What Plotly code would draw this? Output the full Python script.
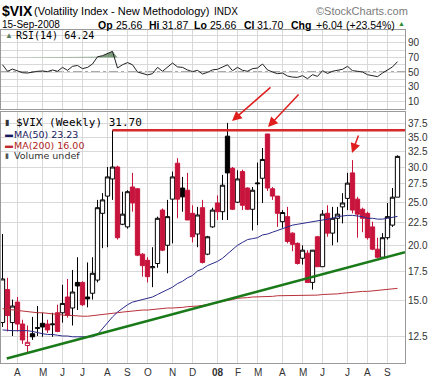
import pandas as pd
import plotly.graph_objects as go

# ---------------- data ----------------
first_week = "2007-03-12"
opens = [13.4, 15.9, 13.4, 14.9, 13.3, 11.9, 12.65, 13.0, 13.35, 13.3,
         13.25, 14.1, 14.1, 15.3, 14.45, 16.5, 16.5, 15.3, 15.6, 16.7,
         23.6, 25.8, 28.2, 30.0, 22.3, 22.0, 27.05, 26.8, 19.1, 18.5,
         17.8, 18.2, 24.0, 20.0, 25.4, 30.6, 26.9, 26.6, 23.6, 21.2,
         24.3, 19.1, 22.0, 24.9, 23.8, 35.2, 29.8, 25.0, 29.3, 26.9,
         24.1, 27.5, 28.3, 35.6, 26.8, 25.8, 22.6, 23.2, 21.3, 20.2,
         18.7, 19.2, 16.5, 20.9, 17.9, 23.6, 21.3, 23.0, 24.4, 25.5,
         29.1, 25.4, 24.1, 23.6, 22.0, 19.6, 18.8, 20.8, 22.2, 25.66]
highs = [21.2, 16.9, 15.1, 15.3, 13.6, 13.2, 13.8, 14.6, 14.1, 13.6,
         14.1, 14.7, 16.3, 16.8, 17.6, 18.8, 16.6, 18.3, 18.8, 25.3,
         26.2, 30.0, 36.3, 30.2, 26.4, 26.6, 29.1, 26.9, 19.2, 18.8,
         19.8, 23.2, 24.2, 25.3, 29.3, 31.4, 28.5, 29.1, 24.6, 24.4,
         25.3, 21.0, 24.3, 25.9, 28.8, 37.7, 30.0, 29.5, 29.6, 27.0,
         27.05, 30.7, 33.1, 35.6, 27.05, 25.8, 24.0, 24.4, 21.4, 20.3,
         20.0, 19.5, 19.5, 21.0, 24.0, 24.6, 24.4, 24.4, 26.2, 29.1,
         31.1, 25.7, 24.3, 23.8, 22.6, 20.8, 21.3, 24.9, 26.9, 31.87]
lows = [13.1, 12.8, 12.5, 12.8, 12.0, 11.5, 12.25, 12.5, 12.45, 12.7,
        12.45, 12.75, 13.4, 13.75, 13.2, 14.3, 14.6, 14.5, 15.1, 16.5,
        19.7, 19.8, 25.3, 20.6, 22.2, 21.8, 23.8, 18.9, 17.0, 16.5,
        16.1, 17.8, 19.4, 17.3, 20.2, 23.0, 23.8, 22.8, 20.3, 19.8,
        18.2, 19.0, 21.9, 22.8, 22.8, 22.8, 24.0, 24.9, 24.0, 24.0,
        21.6, 22.2, 24.9, 26.5, 25.3, 22.0, 21.9, 20.2, 19.4, 18.1,
        18.1, 16.5, 15.9, 17.9, 17.9, 20.9, 20.0, 20.3, 22.4, 24.0,
        23.6, 20.8, 21.4, 20.6, 19.5, 18.7, 18.7, 20.6, 22.0, 25.66]
closes = [16.8, 13.9, 14.6, 13.3, 12.25, 12.1, 12.45, 13.05, 13.1, 12.9,
          13.3, 12.8, 14.8, 13.9, 15.7, 16.2, 14.7, 15.15, 17.3, 24.3,
          25.3, 28.5, 30.0, 20.8, 23.5, 26.4, 24.9, 19.0, 18.0, 17.0,
          17.9, 23.0, 19.5, 23.2, 28.5, 25.4, 25.7, 22.8, 20.9, 23.4,
          18.3, 20.9, 24.0, 23.8, 27.3, 29.1, 24.1, 28.2, 24.6, 24.1,
          26.6, 27.6, 31.2, 26.9, 25.8, 23.6, 23.7, 20.4, 20.1, 18.2,
          19.5, 16.5, 19.5, 17.9, 23.5, 21.3, 23.0, 23.5, 24.9, 27.6,
          24.0, 23.5, 23.0, 20.8, 19.6, 18.8, 20.8, 23.2, 25.66, 31.70]
ma50 = [12.9, 12.85, 12.85, 12.85, 12.85, 12.85, 12.8, 12.7, 12.65, 12.6,
        12.6, 12.55, 12.5, 12.5, 12.45, 12.45, 12.45, 12.45, 12.45, 12.6,
        13.0, 13.4, 13.8, 14.15, 14.45, 14.7, 14.9, 15.0, 15.1, 15.2,
        15.3, 15.5, 15.7, 15.9, 16.1, 16.4, 16.6, 16.9, 17.1, 17.5,
        17.7, 18.0, 18.2, 18.4, 18.7, 19.1, 19.6, 20.0, 20.3, 20.6,
        20.7, 20.8, 21.1, 21.2, 21.4, 21.6, 21.8, 22.0, 22.2, 22.3,
        22.4, 22.5, 22.65, 22.7, 22.8, 22.9, 23.0, 23.2, 23.3, 23.35,
        23.35, 23.3, 23.2, 23.0, 23.0, 22.9, 22.9, 23.0, 23.1, 23.23]
ma200 = [14.4, 14.35, 14.3, 14.3, 14.25, 14.2, 14.15, 14.1, 14.1, 14.05,
         14.0, 14.0, 13.95, 13.9, 13.9, 13.85, 13.85, 13.85, 13.9, 13.95,
         14.0, 14.0, 14.05, 14.1, 14.15, 14.2, 14.25, 14.3, 14.3, 14.3,
         14.35, 14.4, 14.4, 14.45, 14.45, 14.45, 14.5, 14.55, 14.55, 14.6,
         14.65, 14.7, 14.8, 14.85, 14.95, 15.0, 15.1, 15.2, 15.2, 15.25,
         15.3, 15.3, 15.3, 15.35, 15.35, 15.4, 15.4, 15.4, 15.4, 15.4,
         15.4, 15.4, 15.4, 15.45, 15.5, 15.5, 15.55, 15.55, 15.6, 15.65,
         15.65, 15.7, 15.75, 15.75, 15.8, 15.85, 15.9, 15.9, 15.95, 16.0]
rsi = [60, 51, 54, 51, 49, 48.6, 50, 51, 51.4, 50.5,
       52.8, 51, 56.4, 52.3, 57.8, 59, 54.6, 56.4, 61, 71,
       72.5, 76, 78.5, 55.5, 60, 63, 60, 50, 48, 46,
       47.7, 56.4, 51, 56.4, 62.4, 57, 56.4, 52.8, 50.5, 52.3,
       47.2, 49.5, 53, 53.7, 56.4, 60, 51.8, 56.4, 52.3, 51,
       54.6, 55.5, 61, 52.8, 50, 47.7, 48.6, 44.5, 43, 42.6,
       45, 40.8, 46.3, 44, 51.8, 48, 51, 52.3, 53.7, 57.8,
       51.8, 51, 50, 46.3, 45, 43.6, 48.6, 52.3, 57, 64.24]
month_labels = ["A", "M", "J", "J", "A", "S", "O", "N", "D", "<b>08</b>",
                "F", "M", "A", "M", "J", "J", "A", "S"]
price_ticks = [12.5, 15.0, 17.5, 20.0, 22.5, 25.0, 27.5, 30.0, 32.5, 35.0, 37.5]
rsi_ticks = [10, 30, 50, 70, 90]
resistance_level = 36.3
resistance_from_week = 22
trend_weeks = [0.85, 80.5]
trend_values = [11.13, 19.3]

# ---------------- layout helpers ----------------
W, H = 445, 380
ML, MR, MT, MB = 1, 40, 30, 17
PW, PH = W - ML - MR, H - MT - MB


def px(x):
    return (x - ML) / PW


def py(y):
    return (H - MB - y) / PH


n = len(closes)
dates = pd.date_range(first_week, periods=n, freq="7D")


def wk(k):
    return dates[0] + pd.Timedelta(days=7 * k)


s = pd.Series(dates)
month_first = list(s.groupby(s.dt.to_period("M")).first())[1:]

RED = "#c8143c"
BLACK = "#000000"
FONT = "Liberation Sans, Arial, sans-serif"

fig = go.Figure()

# moving averages
fig.add_trace(go.Scatter(x=dates, y=ma200, mode="lines", line=dict(color="#b8323a", width=1),
                         hoverinfo="skip", showlegend=False))
fig.add_trace(go.Scatter(x=dates, y=ma50, mode="lines", line=dict(color="#2a2a8c", width=1),
                         hoverinfo="skip", showlegend=False))

# candles: black when close >= previous close, red otherwise
up_idx = [i for i in range(n) if i == 0 or closes[i] >= closes[i - 1]]
dn_idx = [i for i in range(n) if i not in up_idx]


def candles(idx, color):
    return go.Candlestick(
        x=[dates[i] for i in idx], open=[opens[i] for i in idx], high=[highs[i] for i in idx],
        low=[lows[i] for i in idx], close=[closes[i] for i in idx],
        increasing=dict(line=dict(color=color, width=1), fillcolor="white"),
        decreasing=dict(line=dict(color=color, width=1), fillcolor=color),
        whiskerwidth=0, hoverinfo="skip", showlegend=False)


fig.add_trace(candles(up_idx, BLACK))
fig.add_trace(candles(dn_idx, RED))

# hand-drawn lines
fig.add_trace(go.Scatter(x=[wk(t) for t in trend_weeks], y=trend_values, mode="lines",
                         line=dict(color="#1a7a1a", width=2.5), hoverinfo="skip", showlegend=False))
fig.add_trace(go.Scatter(x=[wk(resistance_from_week), wk(80.5)], y=[resistance_level] * 2,
                         mode="lines", line=dict(color="#d42a2a", width=2.5),
                         hoverinfo="skip", showlegend=False))

# RSI panel
fig.add_trace(go.Scatter(x=dates, y=[70] * n, mode="lines", line=dict(width=0),
                         xaxis="x2", yaxis="y2", hoverinfo="skip", showlegend=False))
fig.add_trace(go.Scatter(x=dates, y=[max(v, 70) for v in rsi], mode="lines", line=dict(width=0),
                         fill="tonexty", fillcolor="#7c9a7c",
                         xaxis="x2", yaxis="y2", hoverinfo="skip", showlegend=False))
fig.add_trace(go.Scatter(x=dates, y=rsi, mode="lines", line=dict(color="#222222", width=1),
                         xaxis="x2", yaxis="y2", hoverinfo="skip", showlegend=False))

xrange = [wk(-0.3), wk(80.5)]
grid = "#d9d9d9"
axis_line = "#9a9a9a"

main_dom = [0, py(111.5)]
rsi_dom = [py(109), 1]

fig.update_layout(
    width=W, height=H, margin=dict(l=ML, r=MR, t=MT, b=MB),
    paper_bgcolor="white", plot_bgcolor="white",
    boxmode="overlay", boxgap=0.14, boxgroupgap=0,
    font=dict(family=FONT, size=10, color="#333333"),
    xaxis=dict(domain=[0, 1], range=xrange, type="date", anchor="y",
               tickvals=month_first, showticklabels=False, showgrid=True, gridcolor=grid,
               gridwidth=1, ticks="", rangeslider=dict(visible=False), showline=True,
               linecolor=axis_line, mirror=True, zeroline=False),
    yaxis=dict(domain=main_dom, type="log", range=[1.0362, 1.602], side="right",
               tickvals=price_ticks, ticktext=[f"{v:.1f}" for v in price_ticks],
               showgrid=True, gridcolor=grid, ticks="", tickfont=dict(size=10, color="#333333"),
               showline=True, linecolor=axis_line, mirror=True, zeroline=False),
    xaxis2=dict(domain=[0, 1], range=xrange, type="date", anchor="y2", matches="x",
                tickvals=month_first, showticklabels=False, showgrid=True, gridcolor=grid,
                ticks="", showline=True, linecolor=axis_line, mirror=True, zeroline=False),
    yaxis2=dict(domain=rsi_dom, range=[-1.0, 107.9], side="right", anchor="x2",
                tickvals=rsi_ticks, showgrid=True, gridcolor=grid, ticks="",
                minor=dict(tickvals=[0, 20, 40, 60, 80, 100], showgrid=True, gridcolor=grid),
                tickfont=dict(size=10, color="#333333"),
                showline=True, linecolor=axis_line, mirror=True, zeroline=False),
)

# RSI reference lines
for lvl, dash, col in [(70, "solid", "#666666"), (30, "solid", "#666666"), (50, "dashdot", "#555555")]:
    fig.add_shape(type="line", xref="x2 domain", yref="y2", x0=0, x1=1, y0=lvl, y1=lvl,
                  line=dict(color=col, width=1, dash=dash), layer="below")

ann = []


def text(x, y, t, size=10, color="#000000", family=FONT, anchor="left"):
    ann.append(dict(xref="paper", yref="paper", x=px(x), y=py(y), text=t, showarrow=False,
                    xanchor=anchor, yanchor="middle", borderpad=0,
                    font=dict(size=size, color=color, family=family)))


# month labels under the price panel
for d, lab in zip(month_first, month_labels):
    ann.append(dict(xref="x", yref="paper", x=d, y=py(372.5), text=lab, showarrow=False,
                    xanchor="center", yanchor="middle",
                    font=dict(size=10, color="#333333", family=FONT)))

# header
last = n - 1
chg = closes[last] - closes[last - 1]
pct = chg / closes[last - 1] * 100
text(1, 11, "<b>$VIX</b>", size=14)
text(33, 11.5, "(Volatility Index - New Methodology)", size=11)
text(213, 11.5, "INDX", size=10)
text(315, 11, "©StockCharts.com", size=11, color="#7a7a7a")
text(1, 24.5, dates[last].strftime("%d-%b-%Y"), size=10)
header2 = [(97, "<b>Op</b>"), (115, f"{opens[last]:.2f}"), (148, "<b>Hi</b>"),
           (161, f"{highs[last]:.2f}"), (193, "<b>Lo</b>"), (208.5, f"{lows[last]:.2f}"),
           (243, "<b>Cl</b>"), (256, f"{closes[last]:.2f}"), (290, "<b>Chg</b>"),
           (315, f"{chg:+.2f}"), (345, f"({pct:+.2f}%)")]
for xpos, t in header2:
    text(xpos, 24.5, t, size=10.5)
text(397, 24, "▲", size=7, color="#2e8b2e")

# panel legends
MONO = "DejaVu Sans Mono, monospace"
text(4, 35.5, "▲", size=8, color="#5f7f5f")
text(15, 35.5, f"RSI(14) {rsi[last]:.2f}", size=10, family=MONO)
text(4, 122, "▮", size=8, color="#333333")
text(15, 122, f"$VIX (Weekly) {closes[last]:.2f}", size=11, family=MONO)
text(4, 134, "▬", size=8, color="#1a1a5e")
text(13, 134, f"MA(50) {ma50[last]:.2f}", size=9.5, color="#1a1a5e", family="DejaVu Sans")
text(4, 145, "▬", size=8, color="#c0282d")
text(13, 145, f"MA(200) {ma200[last]:.2f}", size=9.5, color="#b01e23", family="DejaVu Sans")
text(4, 155.5, "▮", size=7, color="#555555")
text(13, 155.5, "Volume undef", size=9.5, color="#333333", family="DejaVu Sans")

# red hand-drawn arrows
for tip, tail in [((232, 121), (272, 86)), ((268, 127), (300, 93)), ((352, 153), (359, 134))]:
    ann.append(dict(xref="paper", yref="paper", x=px(tip[0]), y=py(tip[1]),
                    ax=tail[0] - tip[0], ay=tail[1] - tip[1], axref="pixel", ayref="pixel",
                    showarrow=True, arrowhead=2, arrowsize=1.3, arrowwidth=1.5,
                    arrowcolor="#e01e1e", text=""))

fig.update_layout(annotations=ann)
fig.write_html("out.html", config={"displayModeBar": False},
               post_script="document.body.style.margin='0';")
